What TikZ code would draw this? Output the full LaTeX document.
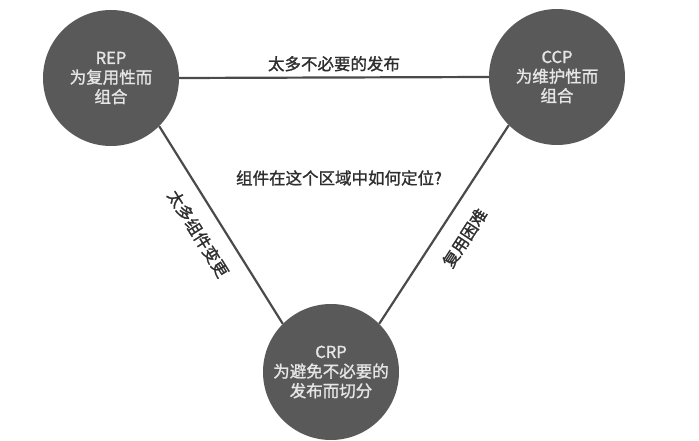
\documentclass[tikz,border=0pt]{standalone}
\usepackage{fontspec}
\setmainfont{Noto Sans CJK SC}[FakeBold=1.3]
\begin{document}
\begin{tikzpicture}[x=1pt,y=-1pt,
  principle/.style={circle,fill=discfill,draw=none,minimum size=136pt,inner sep=0pt,
    text=disctext,align=center,font=\fontsize{16.5}{19.5}\selectfont},
  link/.style={draw=linegray,line width=2.2pt},
  tag/.style={text=labelgray,font=\fontsize{16.5}{19}\selectfont,inner sep=2pt}]
\definecolor{discfill}{HTML}{595959}
\definecolor{disctext}{HTML}{E6E6E6}
\definecolor{linegray}{HTML}{4A4A4A}
\definecolor{labelgray}{HTML}{2E2E2E}
\useasboundingbox (0,0) rectangle (699,441);

% the three cohesion principles
\node[principle] (rep) at (111,78)  {REP\\为复用性而\\组合};
\node[principle] (ccp) at (557,77)  {CCP\\为维护性而\\组合};
\node[principle] (crp) at (331,372) {CRP\\为避免不必要的\\发布而切分};

% tension edges between the principles
\draw[link] (rep.east) -- node[tag,above=3pt] {太多不必要的发布} (ccp.west);
\draw[link] (rep.-45) -- node[tag,sloped,below=13pt,pos=0.48] {太多组件变更} (crp.135);
\draw[link] (ccp.-135) -- node[tag,sloped,below=14pt,pos=0.5] {复用困难} (crp.45);

% question in the middle of the triangle
\node[tag] (question) at (339,178) {组件在这个区域中如何定位?};
\end{tikzpicture}
\end{document}
